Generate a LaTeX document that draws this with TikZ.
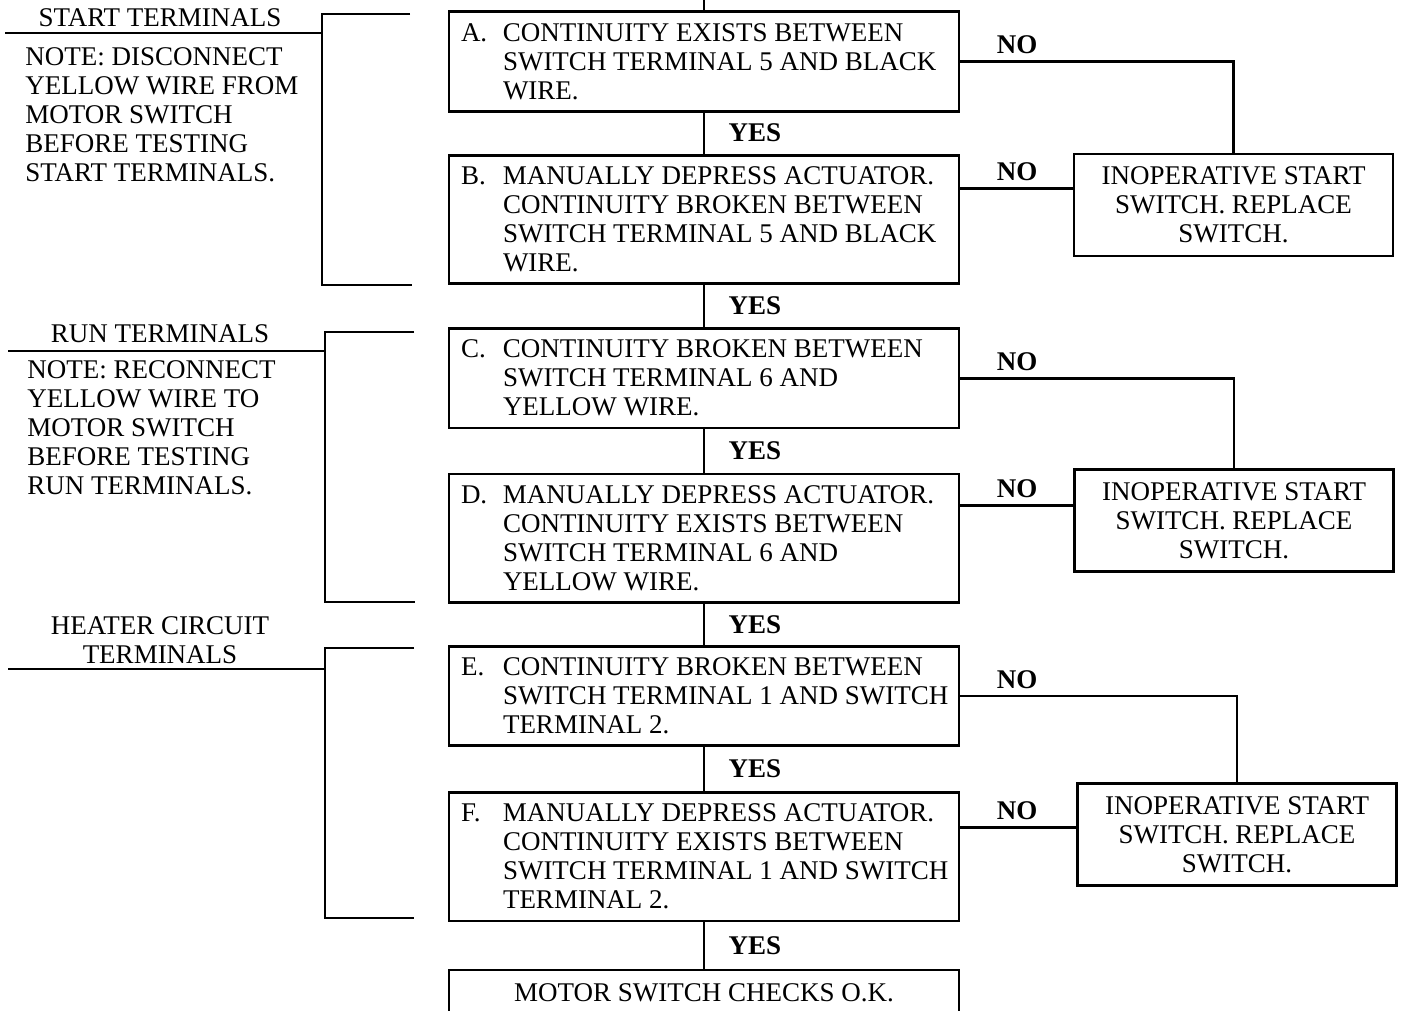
\documentclass[tikz,border=0pt]{standalone}
\usepackage{fontspec}
\setmainfont{Liberation Serif}
\usepackage{tikz}
\usetikzlibrary{positioning}
\newcommand{\chartfont}{\fontsize{27pt}{29pt}\selectfont}
\newcommand{\testtext}[2]{\noindent\spaceskip=0pt\xspaceskip=0pt\makebox[42pt][l]{\rule{0pt}{26pt}#1}\begin{tabular}[t]{@{}l@{}}#2\end{tabular}}
\tikzstyle{testbox} = [rectangle, draw=black, outer sep=0pt, minimum width=510pt, minimum height=99pt, inner xsep=12pt, text width=486pt, align=left]
\tikzstyle{tallbox} = [testbox, minimum height=127pt]
\tikzstyle{failbox} = [rectangle, draw=black, outer sep=0pt, minimum width=319pt, minimum height=102pt, align=center]
\tikzstyle{okbox} = [rectangle, draw=black, outer sep=0pt, minimum width=510pt, inner ysep=14pt, text depth=40pt]
\tikzstyle{note} = [align=left, inner sep=0pt, anchor=north west]
\tikzstyle{nolabel} = [font=\chartfont\bfseries, anchor=south, inner sep=6pt]
\tikzstyle{yeslabel} = [font=\chartfont\bfseries, anchor=west, xshift=20pt]

\begin{document}
\begin{tikzpicture}[x=1pt, y=-1pt, line width=2.8pt, font=\chartfont]
\useasboundingbox (0,0) rectangle (1401,1011);

% test steps
\node (A) [testbox] at (704,61.5) {\testtext{A.}{CONTINUITY EXISTS BETWEEN\\SWITCH TERMINAL 5 AND BLACK\\WIRE.}};
\node (B) [tallbox, below=44pt of A] {\testtext{B.}{MANUALLY DEPRESS ACTUATOR.\\CONTINUITY BROKEN BETWEEN\\SWITCH TERMINAL 5 AND BLACK\\WIRE.}};
\node (C) [testbox, below=45pt of B] {\testtext{C.}{CONTINUITY BROKEN BETWEEN\\SWITCH TERMINAL 6 AND\\YELLOW WIRE.}};
\node (D) [tallbox, below=46pt of C] {\testtext{D.}{MANUALLY DEPRESS ACTUATOR.\\CONTINUITY EXISTS BETWEEN\\SWITCH TERMINAL 6 AND\\YELLOW WIRE.}};
\node (E) [testbox, below=44pt of D] {\testtext{E.}{CONTINUITY BROKEN BETWEEN\\SWITCH TERMINAL 1 AND SWITCH\\TERMINAL 2.}};
\node (F) [tallbox, below=47pt of E] {\testtext{F.}{MANUALLY DEPRESS ACTUATOR.\\CONTINUITY EXISTS BETWEEN\\SWITCH TERMINAL 1 AND SWITCH\\TERMINAL 2.}};
\node (ok) [okbox, below=49pt of F] {MOTOR SWITCH CHECKS O.K.};

% failed results
\node (R1) [failbox] at (1233.5,205) {INOPERATIVE START\\SWITCH. REPLACE\\SWITCH.};
\node (R2) [failbox] at (1234,520.5) {INOPERATIVE START\\SWITCH. REPLACE\\SWITCH.};
\node (R3) [failbox] at (1237,834.5) {INOPERATIVE START\\SWITCH. REPLACE\\SWITCH.};

% YES path
\coordinate (top) at (704,0);
\draw (top) -- (A);
\draw (A) -- node[yeslabel]{YES} (B);
\draw (B) -- node[yeslabel]{YES} (C);
\draw (C) -- node[yeslabel]{YES} (D);
\draw (D) -- node[yeslabel]{YES} (E);
\draw (E) -- node[yeslabel]{YES} (F);
\draw (F) -- node[yeslabel]{YES} (ok);

% NO paths
\draw (A.east) -- ++(58,0) node[nolabel]{NO} -| (R1.north);
\draw ([yshift=31pt]B.east) coordinate (bno) -- ++(58,0) node[nolabel]{NO} -- (bno -| R1.west);
\draw (C.east) -- ++(58,0) node[nolabel]{NO} -| (R2.north);
\draw ([yshift=32.5pt]D.east) coordinate (dno) -- ++(58,0) node[nolabel]{NO} -- (dno -| R2.west);
\draw (E.east) -- ++(58,0) node[nolabel]{NO} -| (R3.north);
\draw ([yshift=29.5pt]F.east) coordinate (fno) -- ++(58,0) node[nolabel]{NO} -- (fno -| R3.west);

% terminal groups
\node (startttl) at (160,18) {START TERMINALS};
\node (startnote) [note] at (24,46.4) {NOTE: DISCONNECT\\YELLOW WIRE FROM\\MOTOR SWITCH\\BEFORE TESTING\\START TERMINALS.};
\draw (5,33) -- (322,33);
\draw (410,14) -| (322,285) -- (412,285);

\node (runttl) at (160,334) {RUN TERMINALS};
\node (runnote) [note] at (26,359.4) {NOTE: RECONNECT\\YELLOW WIRE TO\\MOTOR SWITCH\\BEFORE TESTING\\RUN TERMINALS.};
\draw (8,351) -- (325,351);
\draw (414,332) -| (325,602) -- (415,602);

\node (heatttl) [align=center] at (160,640.5) {HEATER CIRCUIT\\TERMINALS};
\draw (8,669) -- (325,669);
\draw (414,648) -| (325,918) -- (414,918);
\end{tikzpicture}
\end{document}
